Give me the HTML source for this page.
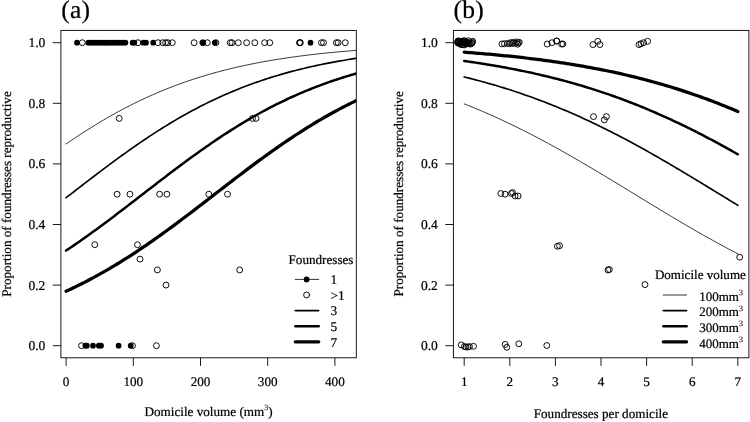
<!DOCTYPE html>
<html><head><meta charset="utf-8"><title>Figure</title>
<style>html,body{margin:0;padding:0;background:#fff;}body{width:750px;height:422px;overflow:hidden;font-family:"Liberation Serif",serif;}</style>
</head><body>
<svg width="750" height="422" viewBox="0 0 750 422" text-rendering="geometricPrecision" style="display:block;will-change:transform;font-family:'Liberation Serif',serif;font-size:13.15px" fill="#000">
<rect x="0" y="0" width="750" height="422" fill="#fff"/>
<filter id="bl" x="0" y="0" width="750" height="422" filterUnits="userSpaceOnUse"><feGaussianBlur stdDeviation="0.5"/></filter>
<style>text{stroke:#000;stroke-width:0.22px;paint-order:stroke fill}</style>
<g filter="url(#bl)">
<clipPath id="ca"><rect x="60.9" y="30.4" width="295.40000000000003" height="327.40000000000003"/></clipPath>
<clipPath id="cb"><rect x="453.4" y="30.4" width="295.5" height="327.40000000000003"/></clipPath>
<g clip-path="url(#ca)" fill="none" stroke="#000" stroke-linecap="round">
<path d="M66.10,143.98 L68.79,142.14 L71.48,140.32 L74.16,138.51 L76.85,136.72 L79.54,134.95 L82.23,133.20 L84.92,131.47 L87.60,129.76 L90.29,128.07 L92.98,126.40 L95.67,124.75 L98.36,123.12 L101.04,121.51 L103.73,119.92 L106.42,118.35 L109.11,116.81 L111.80,115.28 L114.48,113.78 L117.17,112.30 L119.86,110.84 L122.55,109.40 L125.24,107.99 L127.92,106.60 L130.61,105.22 L133.30,103.87 L135.99,102.55 L138.68,101.24 L141.36,99.96 L144.05,98.69 L146.74,97.45 L149.43,96.23 L152.12,95.04 L154.80,93.86 L157.49,92.70 L160.18,91.57 L162.87,90.46 L165.56,89.36 L168.24,88.29 L170.93,87.24 L173.62,86.21 L176.31,85.20 L179.00,84.20 L181.68,83.23 L184.37,82.28 L187.06,81.34 L189.75,80.43 L192.44,79.53 L195.12,78.65 L197.81,77.79 L200.50,76.95 L203.19,76.13 L205.88,75.32 L208.56,74.53 L211.25,73.76 L213.94,73.00 L216.63,72.26 L219.32,71.54 L222.00,70.83 L224.69,70.14 L227.38,69.46 L230.07,68.80 L232.76,68.16 L235.44,67.52 L238.13,66.91 L240.82,66.30 L243.51,65.71 L246.20,65.14 L248.88,64.57 L251.57,64.02 L254.26,63.49 L256.95,62.96 L259.64,62.45 L262.32,61.95 L265.01,61.46 L267.70,60.98 L270.39,60.52 L273.08,60.06 L275.76,59.62 L278.45,59.19 L281.14,58.77 L283.83,58.35 L286.52,57.95 L289.20,57.56 L291.89,57.18 L294.58,56.80 L297.27,56.44 L299.96,56.08 L302.64,55.74 L305.33,55.40 L308.02,55.07 L310.71,54.75 L313.40,54.44 L316.08,54.13 L318.77,53.83 L321.46,53.54 L324.15,53.26 L326.84,52.98 L329.52,52.71 L332.21,52.45 L334.90,52.20 L337.59,51.95 L340.28,51.70 L342.96,51.47 L345.65,51.24 L348.34,51.01 L351.03,50.79 L353.72,50.58 L356.40,50.37 L359.09,50.17 L361.78,49.97" stroke-width="0.8"/>
<path d="M66.10,197.71 L68.79,195.64 L71.48,193.56 L74.16,191.48 L76.85,189.41 L79.54,187.33 L82.23,185.26 L84.92,183.19 L87.60,181.13 L90.29,179.07 L92.98,177.02 L95.67,174.97 L98.36,172.93 L101.04,170.90 L103.73,168.88 L106.42,166.86 L109.11,164.86 L111.80,162.86 L114.48,160.88 L117.17,158.91 L119.86,156.95 L122.55,155.01 L125.24,153.08 L127.92,151.16 L130.61,149.26 L133.30,147.37 L135.99,145.50 L138.68,143.65 L141.36,141.81 L144.05,139.99 L146.74,138.19 L149.43,136.40 L152.12,134.64 L154.80,132.89 L157.49,131.16 L160.18,129.46 L162.87,127.77 L165.56,126.10 L168.24,124.45 L170.93,122.83 L173.62,121.22 L176.31,119.64 L179.00,118.07 L181.68,116.53 L184.37,115.01 L187.06,113.51 L189.75,112.04 L192.44,110.58 L195.12,109.15 L197.81,107.74 L200.50,106.35 L203.19,104.98 L205.88,103.63 L208.56,102.31 L211.25,101.01 L213.94,99.73 L216.63,98.47 L219.32,97.23 L222.00,96.02 L224.69,94.82 L227.38,93.65 L230.07,92.50 L232.76,91.37 L235.44,90.26 L238.13,89.17 L240.82,88.10 L243.51,87.05 L246.20,86.02 L248.88,85.02 L251.57,84.03 L254.26,83.06 L256.95,82.11 L259.64,81.18 L262.32,80.27 L265.01,79.37 L267.70,78.50 L270.39,77.64 L273.08,76.80 L275.76,75.98 L278.45,75.18 L281.14,74.39 L283.83,73.62 L286.52,72.87 L289.20,72.13 L291.89,71.41 L294.58,70.71 L297.27,70.02 L299.96,69.34 L302.64,68.68 L305.33,68.04 L308.02,67.41 L310.71,66.80 L313.40,66.19 L316.08,65.61 L318.77,65.03 L321.46,64.47 L324.15,63.93 L326.84,63.39 L329.52,62.87 L332.21,62.36 L334.90,61.86 L337.59,61.37 L340.28,60.90 L342.96,60.44 L345.65,59.98 L348.34,59.54 L351.03,59.11 L353.72,58.69 L356.40,58.28 L359.09,57.88 L361.78,57.49" stroke-width="1.65"/>
<path d="M66.10,250.58 L68.79,248.78 L71.48,246.96 L74.16,245.13 L76.85,243.28 L79.54,241.41 L82.23,239.53 L84.92,237.63 L87.60,235.72 L90.29,233.79 L92.98,231.85 L95.67,229.89 L98.36,227.92 L101.04,225.94 L103.73,223.95 L106.42,221.95 L109.11,219.94 L111.80,217.91 L114.48,215.88 L117.17,213.85 L119.86,211.80 L122.55,209.75 L125.24,207.69 L127.92,205.63 L130.61,203.56 L133.30,201.49 L135.99,199.42 L138.68,197.34 L141.36,195.26 L144.05,193.19 L146.74,191.11 L149.43,189.03 L152.12,186.96 L154.80,184.89 L157.49,182.82 L160.18,180.76 L162.87,178.70 L165.56,176.65 L168.24,174.60 L170.93,172.56 L173.62,170.53 L176.31,168.51 L179.00,166.50 L181.68,164.50 L184.37,162.51 L187.06,160.53 L189.75,158.56 L192.44,156.60 L195.12,154.66 L197.81,152.73 L200.50,150.82 L203.19,148.92 L205.88,147.03 L208.56,145.17 L211.25,143.31 L213.94,141.48 L216.63,139.66 L219.32,137.86 L222.00,136.08 L224.69,134.32 L227.38,132.58 L230.07,130.86 L232.76,129.15 L235.44,127.47 L238.13,125.80 L240.82,124.16 L243.51,122.54 L246.20,120.93 L248.88,119.35 L251.57,117.79 L254.26,116.26 L256.95,114.74 L259.64,113.25 L262.32,111.77 L265.01,110.32 L267.70,108.89 L270.39,107.48 L273.08,106.10 L275.76,104.73 L278.45,103.39 L281.14,102.07 L283.83,100.77 L286.52,99.50 L289.20,98.24 L291.89,97.01 L294.58,95.80 L297.27,94.61 L299.96,93.44 L302.64,92.29 L305.33,91.17 L308.02,90.06 L310.71,88.97 L313.40,87.91 L316.08,86.86 L318.77,85.84 L321.46,84.84 L324.15,83.85 L326.84,82.89 L329.52,81.94 L332.21,81.01 L334.90,80.10 L337.59,79.21 L340.28,78.34 L342.96,77.49 L345.65,76.65 L348.34,75.84 L351.03,75.04 L353.72,74.25 L356.40,73.49 L359.09,72.74 L361.78,72.00" stroke-width="2.5"/>
<path d="M66.10,291.20 L68.79,289.96 L71.48,288.70 L74.16,287.42 L76.85,286.12 L79.54,284.80 L82.23,283.45 L84.92,282.09 L87.60,280.70 L90.29,279.29 L92.98,277.85 L95.67,276.40 L98.36,274.92 L101.04,273.42 L103.73,271.90 L106.42,270.36 L109.11,268.80 L111.80,267.22 L114.48,265.61 L117.17,263.99 L119.86,262.34 L122.55,260.67 L125.24,258.98 L127.92,257.28 L130.61,255.55 L133.30,253.80 L135.99,252.04 L138.68,250.26 L141.36,248.45 L144.05,246.63 L146.74,244.80 L149.43,242.94 L152.12,241.07 L154.80,239.19 L157.49,237.29 L160.18,235.37 L162.87,233.44 L165.56,231.49 L168.24,229.54 L170.93,227.57 L173.62,225.58 L176.31,223.59 L179.00,221.59 L181.68,219.57 L184.37,217.55 L187.06,215.52 L189.75,213.48 L192.44,211.43 L195.12,209.38 L197.81,207.32 L200.50,205.25 L203.19,203.19 L205.88,201.12 L208.56,199.04 L211.25,196.97 L213.94,194.89 L216.63,192.81 L219.32,190.74 L222.00,188.66 L224.69,186.59 L227.38,184.52 L230.07,182.45 L232.76,180.39 L235.44,178.33 L238.13,176.28 L240.82,174.24 L243.51,172.20 L246.20,170.17 L248.88,168.15 L251.57,166.14 L254.26,164.14 L256.95,162.15 L259.64,160.17 L262.32,158.20 L265.01,156.25 L267.70,154.31 L270.39,152.38 L273.08,150.47 L275.76,148.58 L278.45,146.70 L281.14,144.83 L283.83,142.98 L286.52,141.15 L289.20,139.34 L291.89,137.54 L294.58,135.76 L297.27,134.01 L299.96,132.27 L302.64,130.55 L305.33,128.85 L308.02,127.17 L310.71,125.51 L313.40,123.87 L316.08,122.25 L318.77,120.65 L321.46,119.07 L324.15,117.52 L326.84,115.98 L329.52,114.47 L332.21,112.98 L334.90,111.51 L337.59,110.06 L340.28,108.64 L342.96,107.23 L345.65,105.85 L348.34,104.49 L351.03,103.15 L353.72,101.84 L356.40,100.54 L359.09,99.27 L361.78,98.02" stroke-width="3.25"/>
</g>
<g clip-path="url(#cb)" fill="none" stroke="#000" stroke-linecap="round">
<path d="M464.20,103.87 L466.48,104.78 L468.76,105.69 L471.04,106.61 L473.32,107.54 L475.60,108.49 L477.88,109.44 L480.16,110.40 L482.44,111.37 L484.72,112.35 L487.00,113.34 L489.28,114.34 L491.56,115.35 L493.84,116.37 L496.12,117.40 L498.40,118.44 L500.68,119.49 L502.96,120.55 L505.24,121.62 L507.52,122.70 L509.80,123.78 L512.08,124.88 L514.36,125.99 L516.64,127.10 L518.92,128.23 L521.20,129.36 L523.48,130.50 L525.76,131.65 L528.04,132.81 L530.32,133.98 L532.60,135.16 L534.88,136.34 L537.16,137.54 L539.44,138.74 L541.72,139.95 L544.00,141.17 L546.28,142.39 L548.56,143.63 L550.84,144.87 L553.12,146.12 L555.40,147.37 L557.68,148.63 L559.96,149.90 L562.24,151.18 L564.52,152.47 L566.80,153.76 L569.08,155.05 L571.36,156.35 L573.64,157.66 L575.92,158.98 L578.20,160.30 L580.48,161.62 L582.76,162.95 L585.04,164.29 L587.32,165.63 L589.60,166.98 L591.88,168.33 L594.16,169.68 L596.44,171.04 L598.72,172.40 L601.00,173.77 L603.28,175.14 L605.56,176.51 L607.84,177.88 L610.12,179.26 L612.40,180.64 L614.68,182.02 L616.96,183.41 L619.24,184.79 L621.52,186.18 L623.80,187.57 L626.08,188.96 L628.36,190.35 L630.64,191.75 L632.92,193.14 L635.20,194.53 L637.48,195.92 L639.76,197.32 L642.04,198.71 L644.32,200.10 L646.60,201.49 L648.88,202.88 L651.16,204.27 L653.44,205.65 L655.72,207.03 L658.00,208.42 L660.28,209.80 L662.56,211.17 L664.84,212.55 L667.12,213.92 L669.40,215.28 L671.68,216.65 L673.96,218.01 L676.24,219.36 L678.52,220.72 L680.80,222.06 L683.08,223.41 L685.36,224.75 L687.64,226.08 L689.92,227.41 L692.20,228.73 L694.48,230.05 L696.76,231.36 L699.04,232.67 L701.32,233.97 L703.60,235.26 L705.88,236.55 L708.16,237.83 L710.44,239.10 L712.72,240.37 L715.00,241.63 L717.28,242.88 L719.56,244.13 L721.84,245.36 L724.12,246.59 L726.40,247.81 L728.68,249.03 L730.96,250.24 L733.24,251.43 L735.52,252.62 L737.80,253.80" stroke-width="0.8"/>
<path d="M464.20,76.95 L466.48,77.52 L468.76,78.09 L471.04,78.66 L473.32,79.25 L475.60,79.85 L477.88,80.45 L480.16,81.06 L482.44,81.68 L484.72,82.31 L487.00,82.95 L489.28,83.59 L491.56,84.25 L493.84,84.91 L496.12,85.58 L498.40,86.27 L500.68,86.96 L502.96,87.66 L505.24,88.36 L507.52,89.08 L509.80,89.81 L512.08,90.54 L514.36,91.29 L516.64,92.04 L518.92,92.81 L521.20,93.58 L523.48,94.37 L525.76,95.16 L528.04,95.96 L530.32,96.77 L532.60,97.59 L534.88,98.43 L537.16,99.27 L539.44,100.12 L541.72,100.98 L544.00,101.85 L546.28,102.73 L548.56,103.62 L550.84,104.52 L553.12,105.43 L555.40,106.35 L557.68,107.28 L559.96,108.21 L562.24,109.16 L564.52,110.12 L566.80,111.09 L569.08,112.07 L571.36,113.06 L573.64,114.06 L575.92,115.06 L578.20,116.08 L580.48,117.11 L582.76,118.15 L585.04,119.19 L587.32,120.25 L589.60,121.31 L591.88,122.39 L594.16,123.47 L596.44,124.57 L598.72,125.67 L601.00,126.78 L603.28,127.90 L605.56,129.03 L607.84,130.17 L610.12,131.32 L612.40,132.48 L614.68,133.65 L616.96,134.82 L619.24,136.00 L621.52,137.19 L623.80,138.39 L626.08,139.60 L628.36,140.82 L630.64,142.04 L632.92,143.27 L635.20,144.51 L637.48,145.76 L639.76,147.01 L642.04,148.27 L644.32,149.54 L646.60,150.82 L648.88,152.10 L651.16,153.39 L653.44,154.68 L655.72,155.98 L658.00,157.29 L660.28,158.60 L662.56,159.92 L664.84,161.24 L667.12,162.57 L669.40,163.91 L671.68,165.25 L673.96,166.59 L676.24,167.94 L678.52,169.29 L680.80,170.65 L683.08,172.01 L685.36,173.38 L687.64,174.74 L689.92,176.12 L692.20,177.49 L694.48,178.87 L696.76,180.25 L699.04,181.63 L701.32,183.01 L703.60,184.40 L705.88,185.79 L708.16,187.18 L710.44,188.57 L712.72,189.96 L715.00,191.35 L717.28,192.74 L719.56,194.13 L721.84,195.53 L724.12,196.92 L726.40,198.31 L728.68,199.70 L730.96,201.09 L733.24,202.48 L735.52,203.87 L737.80,205.25" stroke-width="1.65"/>
<path d="M464.20,60.98 L466.48,61.30 L468.76,61.63 L471.04,61.95 L473.32,62.29 L475.60,62.63 L477.88,62.97 L480.16,63.32 L482.44,63.68 L484.72,64.04 L487.00,64.41 L489.28,64.78 L491.56,65.16 L493.84,65.55 L496.12,65.94 L498.40,66.34 L500.68,66.74 L502.96,67.15 L505.24,67.57 L507.52,67.99 L509.80,68.42 L512.08,68.86 L514.36,69.30 L516.64,69.75 L518.92,70.20 L521.20,70.67 L523.48,71.14 L525.76,71.61 L528.04,72.10 L530.32,72.59 L532.60,73.09 L534.88,73.60 L537.16,74.11 L539.44,74.63 L541.72,75.16 L544.00,75.70 L546.28,76.24 L548.56,76.79 L550.84,77.35 L553.12,77.92 L555.40,78.50 L557.68,79.08 L559.96,79.68 L562.24,80.28 L564.52,80.89 L566.80,81.50 L569.08,82.13 L571.36,82.76 L573.64,83.41 L575.92,84.06 L578.20,84.72 L580.48,85.39 L582.76,86.07 L585.04,86.76 L587.32,87.45 L589.60,88.16 L591.88,88.88 L594.16,89.60 L596.44,90.33 L598.72,91.08 L601.00,91.83 L603.28,92.59 L605.56,93.36 L607.84,94.14 L610.12,94.93 L612.40,95.73 L614.68,96.54 L616.96,97.36 L619.24,98.19 L621.52,99.02 L623.80,99.87 L626.08,100.73 L628.36,101.60 L630.64,102.48 L632.92,103.36 L635.20,104.26 L637.48,105.17 L639.76,106.08 L642.04,107.01 L644.32,107.95 L646.60,108.89 L648.88,109.85 L651.16,110.81 L653.44,111.79 L655.72,112.77 L658.00,113.77 L660.28,114.77 L662.56,115.79 L664.84,116.81 L667.12,117.85 L669.40,118.89 L671.68,119.95 L673.96,121.01 L676.24,122.08 L678.52,123.16 L680.80,124.25 L683.08,125.35 L685.36,126.46 L687.64,127.58 L689.92,128.71 L692.20,129.85 L694.48,130.99 L696.76,132.15 L699.04,133.31 L701.32,134.48 L703.60,135.66 L705.88,136.85 L708.16,138.05 L710.44,139.26 L712.72,140.47 L715.00,141.69 L717.28,142.92 L719.56,144.16 L721.84,145.40 L724.12,146.65 L726.40,147.91 L728.68,149.18 L730.96,150.45 L733.24,151.73 L735.52,153.02 L737.80,154.31" stroke-width="2.5"/>
<path d="M464.20,52.20 L466.48,52.37 L468.76,52.54 L471.04,52.72 L473.32,52.90 L475.60,53.08 L477.88,53.27 L480.16,53.45 L482.44,53.65 L484.72,53.84 L487.00,54.04 L489.28,54.24 L491.56,54.45 L493.84,54.66 L496.12,54.87 L498.40,55.09 L500.68,55.31 L502.96,55.53 L505.24,55.76 L507.52,55.99 L509.80,56.23 L512.08,56.47 L514.36,56.71 L516.64,56.96 L518.92,57.21 L521.20,57.47 L523.48,57.73 L525.76,57.99 L528.04,58.26 L530.32,58.53 L532.60,58.81 L534.88,59.10 L537.16,59.38 L539.44,59.68 L541.72,59.97 L544.00,60.27 L546.28,60.58 L548.56,60.89 L550.84,61.21 L553.12,61.53 L555.40,61.86 L557.68,62.19 L559.96,62.53 L562.24,62.87 L564.52,63.22 L566.80,63.58 L569.08,63.94 L571.36,64.30 L573.64,64.68 L575.92,65.05 L578.20,65.44 L580.48,65.83 L582.76,66.22 L585.04,66.62 L587.32,67.03 L589.60,67.45 L591.88,67.87 L594.16,68.30 L596.44,68.73 L598.72,69.17 L601.00,69.62 L603.28,70.07 L605.56,70.53 L607.84,71.00 L610.12,71.48 L612.40,71.96 L614.68,72.45 L616.96,72.95 L619.24,73.45 L621.52,73.96 L623.80,74.48 L626.08,75.01 L628.36,75.54 L630.64,76.08 L632.92,76.63 L635.20,77.19 L637.48,77.76 L639.76,78.33 L642.04,78.91 L644.32,79.51 L646.60,80.10 L648.88,80.71 L651.16,81.33 L653.44,81.95 L655.72,82.58 L658.00,83.22 L660.28,83.87 L662.56,84.53 L664.84,85.20 L667.12,85.88 L669.40,86.56 L671.68,87.25 L673.96,87.96 L676.24,88.67 L678.52,89.39 L680.80,90.12 L683.08,90.86 L685.36,91.61 L687.64,92.37 L689.92,93.14 L692.20,93.92 L694.48,94.70 L696.76,95.50 L699.04,96.31 L701.32,97.12 L703.60,97.95 L705.88,98.78 L708.16,99.63 L710.44,100.48 L712.72,101.35 L715.00,102.22 L717.28,103.11 L719.56,104.00 L721.84,104.91 L724.12,105.82 L726.40,106.74 L728.68,107.68 L730.96,108.62 L733.24,109.57 L735.52,110.54 L737.80,111.51" stroke-width="3.25"/>
</g>
<g fill="none" stroke="#000" stroke-width="0.95">
<circle cx="82.3" cy="42.7" r="2.95"/>
<circle cx="138.0" cy="42.7" r="2.95"/>
<circle cx="158.0" cy="42.7" r="2.95"/>
<circle cx="162.7" cy="42.7" r="2.95"/>
<circle cx="165.6" cy="42.7" r="2.95"/>
<circle cx="167.8" cy="42.7" r="2.95"/>
<circle cx="172.3" cy="42.7" r="2.95"/>
<circle cx="194.1" cy="42.7" r="2.95"/>
<circle cx="202.8" cy="42.7" r="2.95"/>
<circle cx="207.3" cy="42.7" r="2.95"/>
<circle cx="215.9" cy="42.7" r="2.95"/>
<circle cx="230.2" cy="42.7" r="2.95"/>
<circle cx="232.0" cy="42.7" r="2.95"/>
<circle cx="238.3" cy="42.7" r="2.95"/>
<circle cx="246.6" cy="42.7" r="2.95"/>
<circle cx="254.8" cy="42.7" r="2.95"/>
<circle cx="264.6" cy="42.7" r="2.95"/>
<circle cx="269.8" cy="42.7" r="2.95"/>
<circle cx="299.5" cy="42.7" r="2.95"/>
<circle cx="299.9" cy="42.7" r="2.95"/>
<circle cx="300.3" cy="42.7" r="2.95"/>
<circle cx="321.4" cy="42.7" r="2.95"/>
<circle cx="323.5" cy="42.7" r="2.95"/>
<circle cx="336.4" cy="42.7" r="2.95"/>
<circle cx="338.2" cy="42.7" r="2.95"/>
<circle cx="345.3" cy="42.7" r="2.95"/>
<circle cx="119.2" cy="118.4" r="2.95"/>
<circle cx="252.5" cy="118.4" r="2.95"/>
<circle cx="256.0" cy="118.4" r="2.95"/>
<circle cx="117.1" cy="194.2" r="2.95"/>
<circle cx="129.9" cy="194.2" r="2.95"/>
<circle cx="159.6" cy="194.2" r="2.95"/>
<circle cx="166.9" cy="194.2" r="2.95"/>
<circle cx="208.8" cy="194.2" r="2.95"/>
<circle cx="227.5" cy="194.2" r="2.95"/>
<circle cx="94.8" cy="244.7" r="2.95"/>
<circle cx="137.5" cy="244.7" r="2.95"/>
<circle cx="140.0" cy="259.1" r="2.95"/>
<circle cx="157.4" cy="269.9" r="2.95"/>
<circle cx="239.7" cy="269.9" r="2.95"/>
<circle cx="166.0" cy="285.1" r="2.95"/>
<circle cx="81.6" cy="345.7" r="2.95"/>
<circle cx="132.5" cy="345.7" r="2.95"/>
<circle cx="156.4" cy="345.7" r="2.95"/>
</g>
<g fill="#000" stroke="none">
<circle cx="77.0" cy="42.7" r="2.85"/>
<circle cx="88.3" cy="42.7" r="2.85"/>
<circle cx="90.8" cy="42.7" r="2.85"/>
<circle cx="93.2" cy="42.7" r="2.85"/>
<circle cx="95.7" cy="42.7" r="2.85"/>
<circle cx="98.2" cy="42.7" r="2.85"/>
<circle cx="100.6" cy="42.7" r="2.85"/>
<circle cx="103.1" cy="42.7" r="2.85"/>
<circle cx="105.6" cy="42.7" r="2.85"/>
<circle cx="107.4" cy="42.7" r="2.85"/>
<circle cx="110.0" cy="42.7" r="2.85"/>
<circle cx="112.6" cy="42.7" r="2.85"/>
<circle cx="114.8" cy="42.7" r="2.85"/>
<circle cx="117.4" cy="42.7" r="2.85"/>
<circle cx="120.0" cy="42.7" r="2.85"/>
<circle cx="122.8" cy="42.7" r="2.85"/>
<circle cx="125.4" cy="42.7" r="2.85"/>
<circle cx="132.6" cy="42.7" r="2.85"/>
<circle cx="134.3" cy="42.7" r="2.85"/>
<circle cx="143.3" cy="42.7" r="2.85"/>
<circle cx="146.0" cy="42.7" r="2.85"/>
<circle cx="153.2" cy="42.7" r="2.85"/>
<circle cx="202.8" cy="42.7" r="2.85"/>
<circle cx="214.8" cy="42.7" r="2.85"/>
<circle cx="310.5" cy="42.7" r="2.85"/>
<circle cx="85.4" cy="345.7" r="2.85"/>
<circle cx="86.8" cy="345.7" r="2.85"/>
<circle cx="93.0" cy="345.7" r="2.85"/>
<circle cx="98.8" cy="345.7" r="2.85"/>
<circle cx="101.0" cy="345.7" r="2.85"/>
<circle cx="118.6" cy="345.7" r="2.85"/>
<circle cx="130.7" cy="345.7" r="2.85"/>
</g>
<g fill="none" stroke="#000" stroke-width="0.95">
<circle cx="460.9" cy="41.2" r="2.95"/>
<circle cx="464.6" cy="40.8" r="2.95"/>
<circle cx="463.3" cy="42.3" r="2.95"/>
<circle cx="457.9" cy="42.9" r="2.95"/>
<circle cx="457.6" cy="42.6" r="2.95"/>
<circle cx="458.0" cy="40.9" r="2.95"/>
<circle cx="462.0" cy="44.5" r="2.95"/>
<circle cx="458.6" cy="41.6" r="2.95"/>
<circle cx="464.3" cy="45.0" r="2.95"/>
<circle cx="463.7" cy="42.4" r="2.95"/>
<circle cx="468.2" cy="40.7" r="2.95"/>
<circle cx="466.9" cy="41.9" r="2.95"/>
<circle cx="458.8" cy="41.1" r="2.95"/>
<circle cx="460.7" cy="44.4" r="2.95"/>
<circle cx="459.2" cy="43.3" r="2.95"/>
<circle cx="464.4" cy="42.3" r="2.95"/>
<circle cx="463.4" cy="40.8" r="2.95"/>
<circle cx="457.9" cy="41.5" r="2.95"/>
<circle cx="464.9" cy="42.6" r="2.95"/>
<circle cx="460.7" cy="43.3" r="2.95"/>
<circle cx="462.3" cy="41.9" r="2.95"/>
<circle cx="466.2" cy="43.9" r="2.95"/>
<circle cx="460.0" cy="43.3" r="2.95"/>
<circle cx="463.1" cy="44.7" r="2.95"/>
<circle cx="465.4" cy="41.9" r="2.95"/>
<circle cx="472.7" cy="41.3" r="2.95"/>
<circle cx="470.3" cy="44.1" r="2.95"/>
<circle cx="469.2" cy="43.0" r="2.95"/>
<circle cx="468.7" cy="43.7" r="2.95"/>
<circle cx="471.8" cy="43.3" r="2.95"/>
<circle cx="472.3" cy="42.2" r="2.95"/>
<circle cx="471.5" cy="43.4" r="2.95"/>
<circle cx="501.9" cy="43.9" r="2.95"/>
<circle cx="504.4" cy="43.7" r="2.95"/>
<circle cx="507.6" cy="43.3" r="2.95"/>
<circle cx="509.4" cy="43.8" r="2.95"/>
<circle cx="510.8" cy="42.6" r="2.95"/>
<circle cx="512.4" cy="43.4" r="2.95"/>
<circle cx="513.5" cy="42.3" r="2.95"/>
<circle cx="515.2" cy="43.4" r="2.95"/>
<circle cx="516.7" cy="41.9" r="2.95"/>
<circle cx="518.3" cy="42.8" r="2.95"/>
<circle cx="519.3" cy="42.3" r="2.95"/>
<circle cx="517.6" cy="44.2" r="2.95"/>
<circle cx="547.2" cy="44.1" r="2.95"/>
<circle cx="551.9" cy="42.7" r="2.95"/>
<circle cx="556.8" cy="40.9" r="2.95"/>
<circle cx="556.6" cy="41.1" r="2.95"/>
<circle cx="561.6" cy="44.0" r="2.95"/>
<circle cx="562.9" cy="44.0" r="2.95"/>
<circle cx="592.9" cy="44.6" r="2.95"/>
<circle cx="597.8" cy="41.3" r="2.95"/>
<circle cx="599.9" cy="44.6" r="2.95"/>
<circle cx="639.0" cy="44.6" r="2.95"/>
<circle cx="641.0" cy="43.7" r="2.95"/>
<circle cx="643.6" cy="42.7" r="2.95"/>
<circle cx="647.6" cy="41.3" r="2.95"/>
<circle cx="593.5" cy="116.6" r="2.95"/>
<circle cx="606.4" cy="116.6" r="2.95"/>
<circle cx="604.3" cy="119.9" r="2.95"/>
<circle cx="500.8" cy="193.5" r="2.95"/>
<circle cx="505.1" cy="194.2" r="2.95"/>
<circle cx="511.4" cy="193.5" r="2.95"/>
<circle cx="512.6" cy="192.5" r="2.95"/>
<circle cx="515.1" cy="196.0" r="2.95"/>
<circle cx="518.1" cy="196.0" r="2.95"/>
<circle cx="557.4" cy="246.2" r="2.95"/>
<circle cx="559.6" cy="245.7" r="2.95"/>
<circle cx="608.0" cy="270.0" r="2.95"/>
<circle cx="609.4" cy="269.5" r="2.95"/>
<circle cx="645.0" cy="284.6" r="2.95"/>
<circle cx="739.7" cy="257.2" r="2.95"/>
<circle cx="461.2" cy="344.9" r="2.95"/>
<circle cx="464.4" cy="346.5" r="2.95"/>
<circle cx="466.0" cy="347.0" r="2.95"/>
<circle cx="467.9" cy="347.0" r="2.95"/>
<circle cx="469.5" cy="346.6" r="2.95"/>
<circle cx="473.5" cy="346.3" r="2.95"/>
<circle cx="505.2" cy="344.4" r="2.95"/>
<circle cx="506.8" cy="347.3" r="2.95"/>
<circle cx="518.8" cy="343.8" r="2.95"/>
<circle cx="546.8" cy="345.5" r="2.95"/>
</g>
<g fill="none" stroke="#000" stroke-width="0.9">
<rect x="60.9" y="30.4" width="295.40000000000003" height="327.40000000000003"/>
<rect x="453.4" y="30.4" width="295.5" height="327.40000000000003"/>
<path d="M52.8,345.70 H60.9"/>
<path d="M445.29999999999995,345.70 H453.4"/>
<path d="M52.8,285.10 H60.9"/>
<path d="M445.29999999999995,285.10 H453.4"/>
<path d="M52.8,224.50 H60.9"/>
<path d="M445.29999999999995,224.50 H453.4"/>
<path d="M52.8,163.90 H60.9"/>
<path d="M445.29999999999995,163.90 H453.4"/>
<path d="M52.8,103.30 H60.9"/>
<path d="M445.29999999999995,103.30 H453.4"/>
<path d="M52.8,42.70 H60.9"/>
<path d="M445.29999999999995,42.70 H453.4"/>
<path d="M66.10,357.8 V365.90000000000003"/>
<path d="M133.30,357.8 V365.90000000000003"/>
<path d="M200.50,357.8 V365.90000000000003"/>
<path d="M267.70,357.8 V365.90000000000003"/>
<path d="M334.90,357.8 V365.90000000000003"/>
<path d="M464.20,357.8 V365.90000000000003"/>
<path d="M509.80,357.8 V365.90000000000003"/>
<path d="M555.40,357.8 V365.90000000000003"/>
<path d="M601.00,357.8 V365.90000000000003"/>
<path d="M646.60,357.8 V365.90000000000003"/>
<path d="M692.20,357.8 V365.90000000000003"/>
<path d="M737.80,357.8 V365.90000000000003"/>
</g>
<text x="45.3" y="350.20" text-anchor="end" font-size="13.5px">0.0</text>
<text x="437.8" y="350.20" text-anchor="end" font-size="13.5px">0.0</text>
<text x="45.3" y="289.60" text-anchor="end" font-size="13.5px">0.2</text>
<text x="437.8" y="289.60" text-anchor="end" font-size="13.5px">0.2</text>
<text x="45.3" y="229.00" text-anchor="end" font-size="13.5px">0.4</text>
<text x="437.8" y="229.00" text-anchor="end" font-size="13.5px">0.4</text>
<text x="45.3" y="168.40" text-anchor="end" font-size="13.5px">0.6</text>
<text x="437.8" y="168.40" text-anchor="end" font-size="13.5px">0.6</text>
<text x="45.3" y="107.80" text-anchor="end" font-size="13.5px">0.8</text>
<text x="437.8" y="107.80" text-anchor="end" font-size="13.5px">0.8</text>
<text x="45.3" y="47.20" text-anchor="end" font-size="13.5px">1.0</text>
<text x="437.8" y="47.20" text-anchor="end" font-size="13.5px">1.0</text>
<text x="66.10" y="386.3" text-anchor="middle">0</text>
<text x="133.30" y="386.3" text-anchor="middle">100</text>
<text x="200.50" y="386.3" text-anchor="middle">200</text>
<text x="267.70" y="386.3" text-anchor="middle">300</text>
<text x="334.90" y="386.3" text-anchor="middle">400</text>
<text x="464.20" y="386.3" text-anchor="middle">1</text>
<text x="509.80" y="386.3" text-anchor="middle">2</text>
<text x="555.40" y="386.3" text-anchor="middle">3</text>
<text x="601.00" y="386.3" text-anchor="middle">4</text>
<text x="646.60" y="386.3" text-anchor="middle">5</text>
<text x="692.20" y="386.3" text-anchor="middle">6</text>
<text x="737.80" y="386.3" text-anchor="middle">7</text>
<text x="208.6" y="415.5" text-anchor="middle">Domicile volume (mm<tspan dy="-5.4" font-size="8px" stroke-width="0.1">3</tspan><tspan dy="5.4">)</tspan></text>
<text x="600.9" y="417.9" text-anchor="middle">Foundresses per domicile</text>
<text transform="translate(11.2,194.0) rotate(-90)" text-anchor="middle">Proportion of foundresses reproductive</text>
<text transform="translate(403.4,193.8) rotate(-90)" text-anchor="middle">Proportion of foundresses reproductive</text>
<text x="61.2" y="18.4" font-size="25.5px" letter-spacing="0.25">(a)</text>
<text x="453.6" y="18.4" font-size="25.5px" letter-spacing="0.2">(b)</text>
<text x="288.5" y="263.7">Foundresses</text>
<g fill="none" stroke="#000" stroke-linecap="round">
<path d="M295.3,279.4 H318.7" stroke-width="0.8"/>
<path d="M295.3,310.6 H318.7" stroke-width="1.65"/>
<path d="M295.3,326.2 H318.7" stroke-width="2.5"/>
<path d="M295.3,341.8 H318.7" stroke-width="3.25"/>
<circle cx="306.6" cy="295.0" r="2.95" stroke-width="0.95"/>
</g>
<circle cx="306.6" cy="279.4" r="2.85"/>
<text x="330.4" y="284.2" font-size="13.3px">1</text>
<text x="330.4" y="299.8" font-size="13.3px">&gt;1</text>
<text x="330.4" y="315.4" font-size="13.3px">3</text>
<text x="330.4" y="331.0" font-size="13.3px">5</text>
<text x="330.4" y="346.6" font-size="13.3px">7</text>
<text x="654.9" y="279.1" font-size="13.05px">Domicile volume</text>
<g fill="none" stroke="#000" stroke-linecap="round">
<path d="M663.3,295.0 H686.6" stroke-width="0.8"/>
<path d="M663.3,310.6 H686.6" stroke-width="1.65"/>
<path d="M663.3,326.2 H686.6" stroke-width="2.5"/>
<path d="M663.3,341.8 H686.6" stroke-width="3.25"/>
</g>
<text x="699.2" y="300.8" font-size="13px">100mm<tspan dy="-5.6" font-size="8px" stroke-width="0.1">3</tspan></text>
<text x="699.2" y="316.4" font-size="13px">200mm<tspan dy="-5.6" font-size="8px" stroke-width="0.1">3</tspan></text>
<text x="699.2" y="332.0" font-size="13px">300mm<tspan dy="-5.6" font-size="8px" stroke-width="0.1">3</tspan></text>
<text x="699.2" y="347.6" font-size="13px">400mm<tspan dy="-5.6" font-size="8px" stroke-width="0.1">3</tspan></text>
</g>
</svg>
</body></html>
